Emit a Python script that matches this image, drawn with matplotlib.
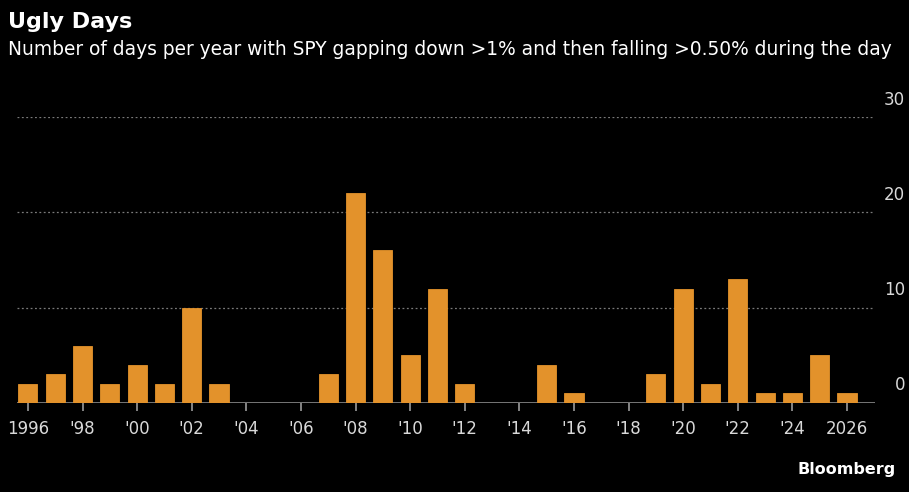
import matplotlib.pyplot as plt

years = list(range(1996, 2027))
ugly_days = [2, 3, 6, 2, 4, 2, 10, 2, 0, 0, 0, 3, 22, 16, 5, 12, 2, 0, 0, 4, 1,
             0, 0, 3, 12, 2, 13, 1, 1, 5, 1]
tick_years = list(range(1996, 2027, 2))
tick_labels = ["1996", "'98", "'00", "'02", "'04", "'06", "'08", "'10", "'12",
               "'14", "'16", "'18", "'20", "'22", "'24", "2026"]
y_ticks = [0, 10, 20, 30]

bar_color = "#E3922B"
text_color = "#D9D9D9"

fig = plt.figure(figsize=(9.09, 4.92), dpi=100, facecolor="black")
ax = fig.add_axes([0.0187, 0.181, 0.944, 0.581], facecolor="black")

ax.bar(years, ugly_days, width=0.7, color=bar_color, edgecolor=bar_color,
       linewidth=0.6, zorder=3)

ax.set_xlim(1995.6, 2027.03)
ax.set_ylim(0, 30)

# dotted grid lines, solid baseline
for v in y_ticks[1:]:
    ax.axhline(v, color="#7a7a7a", linestyle=(0, (1.5, 2)), linewidth=0.9, zorder=1)
ax.axhline(0, color="#9a9a9a", linewidth=1.8, zorder=2)

for s in ax.spines.values():
    s.set_visible(False)

ax.set_yticks([])
ax.set_xticks(tick_years)
ax.set_xticklabels(tick_labels)
ax.tick_params(axis="x", colors="#9a9a9a", length=6, width=1.2, pad=6,
               labelcolor=text_color, labelsize=12)

# y labels sit above their gridlines at the right
ytrans = ax.get_yaxis_transform()
for v in y_ticks:
    ax.text(1.035, v + 0.9, str(v), transform=ytrans, ha="right", va="bottom",
            color=text_color, fontsize=12)

fig.text(0.009, 0.955, "Ugly Days", color="white", fontsize=16,
         fontweight="bold", va="center", ha="left")
fig.text(0.009, 0.9, "Number of days per year with SPY gapping down >1% and then "
         "falling >0.50% during the day", color="white", fontsize=13.4,
         va="center", ha="left")
fig.text(0.985, 0.045, "Bloomberg", color="white", fontsize=11.5,
         fontweight="bold", va="center", ha="right")

fig.savefig("out.png", dpi=100, facecolor="black")
